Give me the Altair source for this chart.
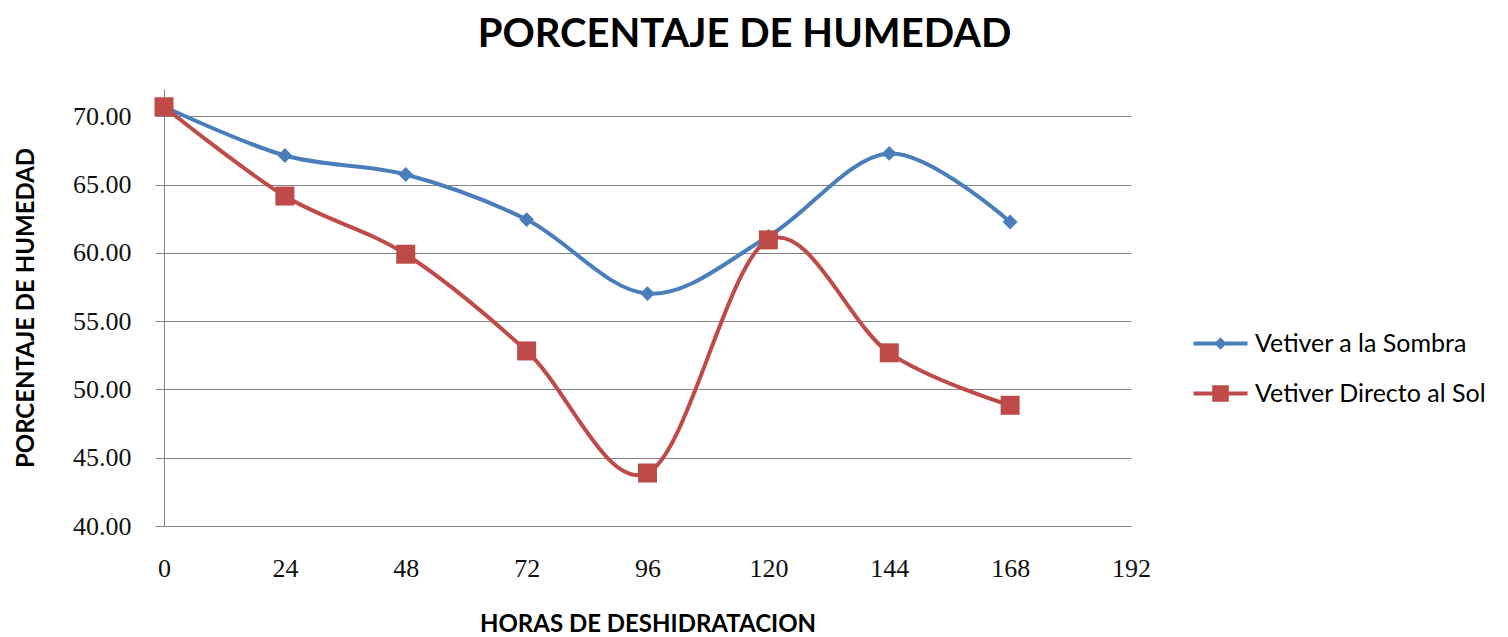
import altair as alt
import pandas as pd

# ---- data ----
hours = [0, 24, 48, 72, 96, 120, 144, 168]
sombra = [70.72, 67.13, 65.74, 62.44, 57.02, 61.20, 67.28, 62.26]
sol = [70.70, 64.16, 59.90, 52.82, 43.88, 60.95, 52.68, 48.84]
series_names = ["Vetiver a la Sombra", "Vetiver Directo al Sol"]
marker_names = ["rombo", "cuadrado"]
x_ticks = [0, 24, 48, 72, 96, 120, 144, 168, 192]
y_ticks = [40, 45, 50, 55, 60, 65, 70]

BLUE = "#4A7EBB"
RED = "#BE4B48"
GRID = "#868686"

rows = []
for h, v in zip(hours, sombra):
    rows.append({"hora": h, "humedad": v, "serie": series_names[0], "marca": marker_names[0]})
for h, v in zip(hours, sol):
    rows.append({"hora": h, "humedad": v, "serie": series_names[1], "marca": marker_names[1]})
df = pd.DataFrame(rows)

# legend symbols: a line segment through a marker (diamond / square)
P1 = ("M-1.2,0L1.2,0"
      "M0,-0.15L0.15,0L0,0.15L-0.15,0Z"
      "M-0.05,0L0.05,0")
P2 = ("M-1.2,0L1.2,0"
      "M-0.28,-0.28L0.28,-0.28L0.28,0.28L-0.28,0.28Z"
      "M-0.12,-0.12L0.12,-0.12L0.12,0.12L-0.12,0.12Z"
      "M-0.1,0L0.1,0")

sel = f"datum.value === '{series_names[0]}'"

legend = alt.Legend(
    title=None,
    orient="none",
    legendX=1032,
    legendY=230,
    symbolSize=2025,
    symbolStrokeWidth=4,
    symbolType={"expr": f"{sel} ? '{P1}' : '{P2}'"},
    symbolFillColor={"expr": f"{sel} ? '{BLUE}' : '{RED}'"},
    symbolStrokeColor={"expr": f"{sel} ? '{BLUE}' : '{RED}'"},
    symbolOpacity=1,
    labelOffset=10,
    rowPadding=12,
    padding=0,
    labelFont="Lato",
    labelFontSize=25,
    labelColor="#000000",
    labelLimit=400,
)

x_enc = alt.X(
    "hora:Q",
    scale=alt.Scale(domain=[0, 192], nice=False),
    axis=alt.Axis(
        values=x_ticks,
        title="HORAS DE DESHIDRATACION",
        grid=False,
        ticks=False,
        domainColor=GRID,
        domainWidth=1,
        labelFont="Liberation Serif",
        labelFontSize=26,
        labelColor="#111111",
        labelPadding=29,
        labelFlush=False,
        labelOverlap=False,
        titleFont="Lato",
        titleFontSize=24,
        titleFontWeight="bold",
        titleColor="#000000",
        titleX=483.5,
        titleY=98,
        titleAlign="center",
        titleBaseline="middle",
    ),
)

y_enc = alt.Y(
    "humedad:Q",
    scale=alt.Scale(domain=[40, 72], nice=False, zero=False),
    axis=alt.Axis(
        values=y_ticks,
        format=".2f",
        title="PORCENTAJE DE HUMEDAD",
        grid=True,
        gridColor=GRID,
        gridWidth=1,
        tickSize=9,
        tickColor=GRID,
        domainColor=GRID,
        labelFont="Liberation Serif",
        labelFontSize=26,
        labelColor="#111111",
        labelPadding=24,
        titleFont="Lato",
        titleFontSize=24,
        titleFontWeight="bold",
        titleColor="#000000",
        titleAngle=270,
        titleX=-138,
        titleY=218.5,
        titleAlign="center",
        titleBaseline="middle",
    ),
)

base = alt.Chart(df)

lines = base.mark_line(interpolate="cardinal", strokeWidth=4).encode(
    x=x_enc,
    y=y_enc,
    color=alt.Color(
        "serie:N",
        scale=alt.Scale(domain=series_names, range=[BLUE, RED]),
        legend=legend,
    ),
)

points = base.mark_point(filled=True, opacity=1).encode(
    x=x_enc,
    y=y_enc,
    color=alt.Color(
        "serie:N",
        scale=alt.Scale(domain=series_names, range=[BLUE, RED]),
        legend=None,
    ),
    shape=alt.Shape(
        "marca:N",
        scale=alt.Scale(domain=marker_names, range=["diamond", "square"]),
        legend=None,
    ),
    size=alt.Size(
        "marca:N",
        scale=alt.Scale(domain=marker_names, range=[220, 361]),
        legend=None,
    ),
)

chart = (
    alt.layer(lines, points)
    .properties(
        width=967,
        height=437,
        padding={"left": 156, "top": 81, "right": 369, "bottom": 110},
        autosize="none",
        title=alt.TitleParams(
            "PORCENTAJE DE HUMEDAD",
            font="Lato",
            fontSize=40,
            fontWeight="bold",
            color="#000000",
            anchor="middle",
            dx=97,
            offset=34,
        ),
        background="white",
    )
    .configure_view(strokeWidth=0)
)

chart.save("out.html", embed_options={"renderer": "svg", "actions": False})
